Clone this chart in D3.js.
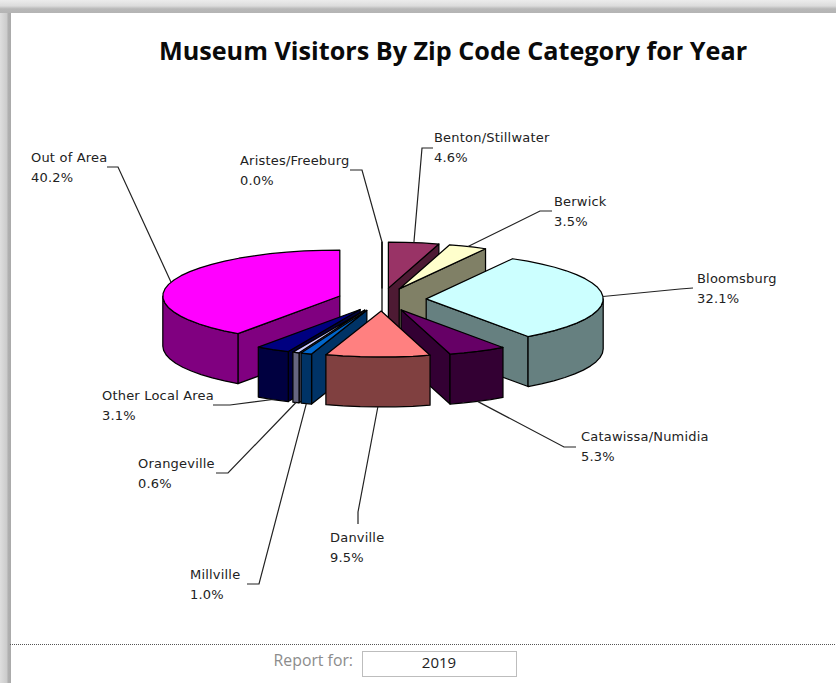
<!DOCTYPE html>
<html>
<head>
<meta charset="utf-8">
<script src="https://cdn.jsdelivr.net/npm/d3@7/dist/d3.min.js"></script>
<style>
html,body{margin:0;padding:0;background:#fff;overflow:hidden}
svg{display:block}
</style>
</head>
<body>
<svg id="chart" width="836" height="683"></svg>
<script>
// ---- data ----
const categories = ["Aristes/Freeburg","Benton/Stillwater","Berwick","Bloomsburg","Catawissa/Numidia","Danville","Millville","Orangeville","Other Local Area","Out of Area"];
const shares = [0.0,4.6,3.5,32.1,5.3,9.5,1.0,0.6,3.1,40.2];
const topColors = ["#9999ff","#993366","#ffffcc","#ccffff","#660066","#ff8080","#0066cc","#ccccff","#000080","#ff00ff"];
const titleText = "Museum Visitors By Zip Code Category for Year";
const reportLabel = "Report for:";
const reportYear = "2019";

// ---- layout of the callouts: label's left edge, first baseline, then elbow and stub end ----
const calloutLayout = {
  "Aristes/Freeburg":  {lx:240,ly:165,elbow:[362,170],stub:[350,170]},
  "Benton/Stillwater": {lx:434,ly:142,elbow:[422,148],stub:[433,148]},
  "Berwick":           {lx:554,ly:206,elbow:[540,211],stub:[552,211]},
  "Bloomsburg":        {lx:697,ly:283,elbow:[680,289],stub:[693,288]},
  "Catawissa/Numidia": {lx:581,ly:441,elbow:[564,447],stub:[576,447]},
  "Danville":          {lx:330,ly:542,elbow:[358,512],stub:[358,524]},
  "Millville":         {lx:190,ly:579,elbow:[259,584],stub:[247,584]},
  "Orangeville":       {lx:138,ly:468,elbow:[228,473],stub:[216,473]},
  "Other Local Area":  {lx:102,ly:400,elbow:[230,405],stub:[213,405]},
  "Out of Area":       {lx:31, ly:162,elbow:[118,167],stub:[107,167]}
};

// ---- pie geometry ----
const cx = 382, cy = 299.5, rx = 177, ry = 46, depth = 50, explode = 0.25;
const sx = d3.scaleLinear().domain([-1,1]).range([cx-rx,cx+rx]);
const sy = d3.scaleLinear().domain([-1,1]).range([cy+ry,cy-ry]);

const slices = d3.pie().sort(null).value(d=>d.v).startAngle(0).endAngle(2*Math.PI)(
  categories.map((c,i)=>({name:c,v:shares[i],color:topColors[i]})));

slices.forEach(s=>{ s.mid=(s.startAngle+s.endAngle)/2; });

function pt(s,a,r,drop){
  const ox=explode*Math.sin(s.mid), oy=explode*Math.cos(s.mid);
  return [sx(ox+r*Math.sin(a)), sy(oy+r*Math.cos(a))+(drop||0)];
}
function arcPts(a0,a1){
  const n=Math.max(1,Math.ceil((a1-a0)/(6*Math.PI/180)));
  return d3.range(n+1).map(i=>a0+(a1-a0)*i/n);
}
const line=d3.line();
const closed=p=>line(p)+"Z";
function darker(c){ const k=d3.rgb(c); return d3.rgb(k.r/2,k.g/2,k.b/2).formatHex(); }

const svg=d3.select("#chart");
const defs=svg.append("defs");
const gTop=defs.append("linearGradient").attr("id","frameTop").attr("x1",0).attr("y1",0).attr("x2",0).attr("y2",1);
[[0,"#ececec"],[0.45,"#dcdcdc"],[0.68,"#b8b8b8"],[1,"#b4b4b4"]].forEach(d=>gTop.append("stop").attr("offset",d[0]).attr("stop-color",d[1]));
const gLeft=defs.append("linearGradient").attr("id","frameLeft").attr("x1",0).attr("y1",0).attr("x2",1).attr("y2",0);
[[0,"#dedede"],[0.6,"#cccccc"],[0.75,"#b0b0b0"],[1,"#aaaaaa"]].forEach(d=>gLeft.append("stop").attr("offset",d[0]).attr("stop-color",d[1]));

svg.append("rect").attr("width",836).attr("height",683).attr("fill","#fff");
svg.append("rect").attr("x",0).attr("y",0).attr("width",11).attr("height",683).attr("fill","url(#frameLeft)");
svg.append("rect").attr("x",0).attr("y",0).attr("width",836).attr("height",13).attr("fill","url(#frameTop)");

svg.append("text").attr("x",453).attr("y",60).attr("text-anchor","middle")
  .attr("font-family","'Open Sans',sans-serif").attr("font-weight",700).attr("font-size",25.2).attr("fill","#0a0a0a")
  .text(titleText);

// back to front
const order=slices.slice().sort((a,b)=>Math.cos(b.mid)-Math.cos(a.mid));
const pieG=svg.append("g").attr("stroke","#000").attr("stroke-width",1.25).attr("stroke-linejoin","round");
order.forEach(s=>{
  const side=darker(s.data.color);
  const g=pieG.append("g");
  const a0=s.startAngle,a1=s.endAngle;
  const tip=pt(s,0,0), tipB=pt(s,0,0,depth);
  // radial wall on the leading edge, when it faces the viewer
  if(Math.cos(a0-Math.PI/2)<=0||a0===a1){
    g.append("path").attr("fill",side).attr("d",closed([tip,pt(s,a0,1),pt(s,a0,1,depth),tipB]));
  }
  if(Math.cos(a1+Math.PI/2)<=0){
    g.append("path").attr("fill",side).attr("d",closed([tip,pt(s,a1,1),pt(s,a1,1,depth),tipB]));
  }
  // rim wall
  const w0=Math.max(a0,Math.PI/2), w1=Math.min(a1,1.5*Math.PI);
  if(w1>w0){
    const as=arcPts(w0,w1);
    g.append("path").attr("fill",side).attr("d",closed(
      as.map(a=>pt(s,a,1)).concat(as.slice().reverse().map(a=>pt(s,a,1,depth)))));
  }
  // top face
  g.append("path").attr("fill",s.data.color).attr("d",closed([tip].concat(arcPts(a0,a1).map(a=>pt(s,a,1)))));
});

// callouts
const calloutG=svg.append("g");
slices.forEach(s=>{
  const lay=calloutLayout[s.data.name];
  const front=Math.cos(s.mid)<-0.2;
  const start=pt(s,s.mid,1,front?depth:0);
  calloutG.append("path").attr("fill","none").attr("stroke","#222").attr("stroke-width",1.2)
    .attr("d",line([start,lay.elbow,lay.stub]));
  const t=calloutG.append("text").attr("font-family","'DejaVu Sans',sans-serif").attr("font-size",13).attr("letter-spacing",0.2).attr("fill","#222");
  t.append("tspan").attr("x",lay.lx).attr("y",lay.ly).text(s.data.name);
  t.append("tspan").attr("x",lay.lx).attr("y",lay.ly+20).text(d3.format(".1f")(s.data.v)+"%");
});

// footer
svg.append("line").attr("x1",10).attr("x2",836).attr("y1",644.5).attr("y2",644.5)
  .attr("stroke","#555").attr("stroke-width",1).attr("stroke-dasharray","1 1");
svg.append("text").attr("x",353).attr("y",666).attr("text-anchor","end")
  .attr("font-family","'Open Sans',sans-serif").attr("font-size",15.8).attr("fill","#8c8c8c").text(reportLabel);
svg.append("rect").attr("x",362.5).attr("y",651.5).attr("width",154).attr("height",25)
  .attr("fill","#fff").attr("stroke","#bdbdbd");
svg.append("text").attr("x",439).attr("y",668).attr("text-anchor","middle")
  .attr("font-family","'Open Sans',sans-serif").attr("font-size",15).attr("fill","#222").text(reportYear);
</script>
</body>
</html>
